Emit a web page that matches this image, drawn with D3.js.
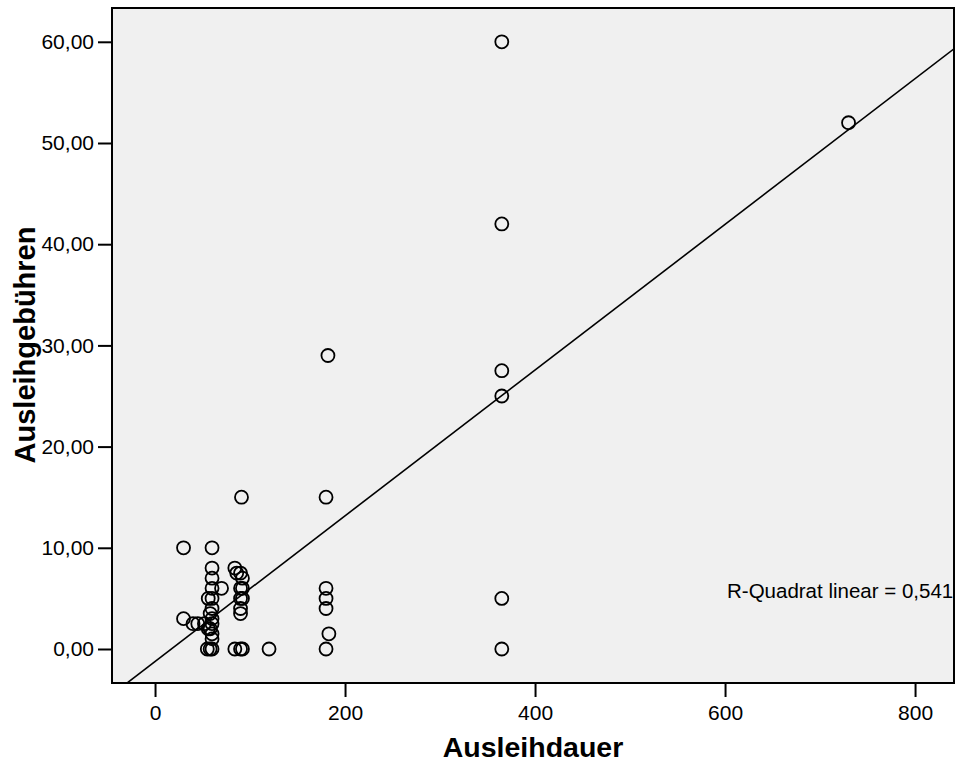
<!DOCTYPE html>
<html>
<head>
<meta charset="utf-8">
<script src="https://cdn.jsdelivr.net/npm/d3@7"></script>
<style>
	body { margin: 0; background: #fff; }
	text { font-family: "Liberation Sans", Arial, sans-serif; fill: #000; }
</style>
</head>
<body>
<div id="chart"></div>
<script>
	"use strict";

	// Ausleihdauer (Tage) und Ausleihgebühren
	var dauer = [365, 730, 365, 182, 365, 365, 91, 180, 30, 60, 365, 365,
		180, 180, 180, 183, 180, 120, 30,
		40, 45, 52, 56, 60, 60, 60, 70, 56, 60, 60, 58, 60, 60, 58, 60, 60, 55, 58, 60,
		84, 86, 90, 92, 90, 92, 90, 92, 90, 90, 84, 90, 92];
	var gebuehren = [60, 52, 42, 29, 27.5, 25, 15, 15, 10, 10, 5, 0,
		6, 5, 4, 1.5, 0, 0, 3,
		2.5, 2.5, 2.5, 2, 8, 7, 6, 6, 5, 5, 4, 3.5, 3, 2.5, 2, 1.5, 1, 0, 0, 0,
		8, 7.5, 7.5, 7, 6, 6, 5, 5, 4, 3.5, 0, 0, 0];

	var xTicks = [0, 200, 400, 600, 800];
	var yTicks = [0, 10, 20, 30, 40, 50, 60];

	// lineare Anpassung
	var fitIntercept = -1.24;
	var fitSlope = 0.072;
	var rSquaredLabel = "R-Quadrat linear = 0,541";

	var width = 957, height = 763;
	var plotLeft = 112, plotRight = 954, plotTop = 8, plotBottom = 683;

	var x = d3.scaleLinear().domain([-45.3, 841]).range([plotLeft, plotRight]);
	var y = d3.scaleLinear().domain([-3.36, 63.34]).range([plotBottom, plotTop]);

	var de = d3.formatLocale({decimal: ",", thousands: ".", grouping: [3], currency: ["", " €"]});

	var svg = d3.select("#chart").append("svg")
		.attr("width", width)
		.attr("height", height);

	svg.append("defs").append("clipPath")
		.attr("id", "plotclip")
		.append("rect")
		.attr("x", plotLeft).attr("y", plotTop)
		.attr("width", plotRight - plotLeft).attr("height", plotBottom - plotTop);

	svg.append("rect")
		.attr("x", plotLeft).attr("y", plotTop)
		.attr("width", plotRight - plotLeft).attr("height", plotBottom - plotTop)
		.style("fill", "#f0f0f0");

	var plot = svg.append("g").attr("clip-path", "url(#plotclip)");

	var xs = x.domain();
	plot.append("line")
		.attr("x1", x(xs[0])).attr("y1", y(fitIntercept + fitSlope * xs[0]))
		.attr("x2", x(xs[1])).attr("y2", y(fitIntercept + fitSlope * xs[1]))
		.style("stroke", "#000")
		.style("stroke-width", 1.6);

	plot.selectAll("circle")
		.data(dauer.map(function(d, i) { return {x: d, y: gebuehren[i]}; }))
		.enter()
		.append("circle")
		.attr("cx", function(d) { return x(d.x); })
		.attr("cy", function(d) { return y(d.y); })
		.attr("r", 6.5)
		.style("fill", "none")
		.style("stroke", "#000")
		.style("stroke-width", 1.8);

	svg.append("text")
		.attr("x", 727)
		.attr("y", 598)
		.style("font-size", "20.5px")
		.text(rSquaredLabel);

	svg.append("rect")
		.attr("x", plotLeft).attr("y", plotTop)
		.attr("width", plotRight - plotLeft).attr("height", plotBottom - plotTop)
		.style("fill", "none")
		.style("stroke", "#000")
		.style("stroke-width", 2);

	var xAxis = svg.append("g")
		.attr("transform", "translate(0," + plotBottom + ")")
		.call(d3.axisBottom(x).tickValues(xTicks).tickSize(14).tickPadding(8));
	var yAxis = svg.append("g")
		.attr("transform", "translate(" + plotLeft + ",0)")
		.call(d3.axisLeft(y).tickValues(yTicks).tickSize(14).tickPadding(4)
			.tickFormat(de.format(".2f")));

	[xAxis, yAxis].forEach(function(a) {
		a.select(".domain").remove();
		a.selectAll(".tick line").style("stroke", "#000").style("stroke-width", 2);
		a.selectAll(".tick text")
			.style("font-family", "'Liberation Sans', Arial, sans-serif")
			.style("font-size", "21px")
			.style("fill", "#000");
	});

	svg.append("text")
		.attr("x", 533)
		.attr("y", 757)
		.attr("text-anchor", "middle")
		.style("font-size", "28.5px")
		.style("font-weight", "bold")
		.text("Ausleihdauer");

	svg.append("text")
		.attr("transform", "translate(35,345) rotate(-90)")
		.attr("text-anchor", "middle")
		.style("font-size", "29px")
		.style("font-weight", "bold")
		.text("Ausleihgebühren");
</script>
</body>
</html>
